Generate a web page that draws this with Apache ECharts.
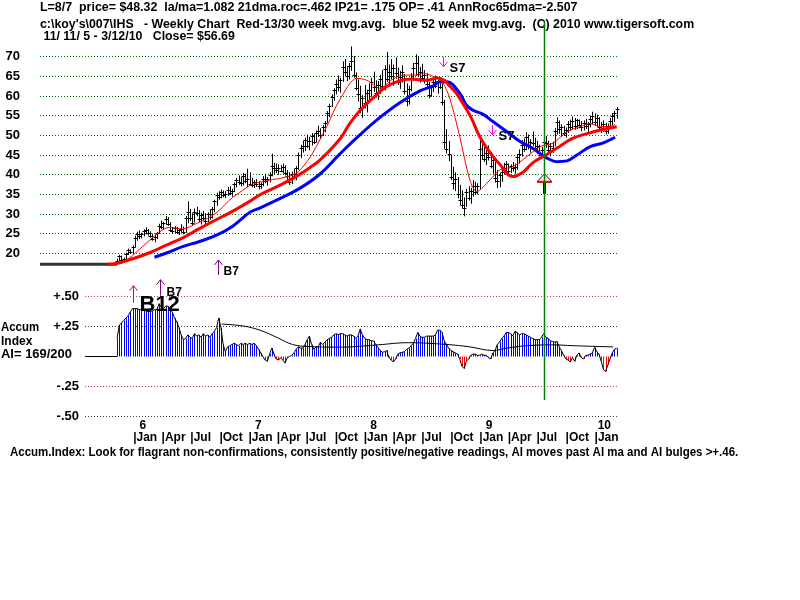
<!DOCTYPE html>
<html><head><meta charset="utf-8">
<script src="https://cdn.jsdelivr.net/npm/echarts@6/dist/echarts.min.js"></script>
<style>html,body{margin:0;padding:0;background:#fff}#c{width:800px;height:600px}</style>
</head><body><div id="c"></div>
<script>
// ---------------- DATA ----------------
const firstWeek = '2005-11-11';          // first weekly bar (Friday)
const chartStart = '2005-03-12';         // left edge of price panel time range
const chartEnd = '2010-03-13';
const aiStart = '2005-08-01';            // left edge of Accum panel time range

const high = [
18.6,19.6,19.4,18.9,20.2,21.2,21.0,22.0,24.5,25.5,
25.8,25.2,26.1,26.6,26.2,25.6,25.0,24.8,25.4,27.5,
28.3,28.0,29.5,29.2,27.9,26.6,26.9,26.7,26.2,27.4,
26.8,29.5,33.2,31.3,30.2,31.4,31.8,31.0,30.3,30.8,
30.2,30.4,31.2,31.8,33.6,35.4,35.8,36.2,36.0,35.8,
36.8,37.0,36.4,38.0,39.2,39.8,39.4,40.4,40.2,41.5,
40.6,39.2,38.6,38.9,38.4,38.0,39.6,40.2,39.4,40.6,
45.3,43.0,42.8,42.6,42.4,42.8,42.4,41.2,40.6,40.8,
41.4,42.2,45.6,47.6,48.6,49.4,50.2,49.6,50.6,50.4,
51.2,52.4,51.8,52.6,53.6,56.2,58.0,60.4,62.0,64.2,
65.2,64.6,68.8,69.4,67.6,68.4,72.6,70.2,66.0,64.2,
62.6,60.2,62.8,61.6,63.2,64.6,66.2,64.0,63.8,65.4,
66.6,67.8,71.2,68.0,69.4,68.0,69.8,67.2,66.4,67.8,
65.6,63.2,62.6,65.8,68.4,70.6,70.2,67.4,68.2,66.6,
65.8,63.6,62.8,64.6,65.2,64.0,64.8,63.4,59.0,51.6,
48.6,45.0,42.0,40.6,39.4,37.4,36.0,34.2,36.4,37.0,
36.6,38.6,38.2,37.8,48.8,48.2,47.0,46.2,47.4,45.8,
44.2,43.4,41.2,40.4,41.6,43.0,43.4,42.8,42.6,43.2,
42.8,45.2,46.4,48.8,49.2,50.8,50.2,49.0,51.0,49.4,
48.6,47.6,47.0,50.4,49.8,48.6,48.0,48.4,51.8,54.6,
53.8,52.8,52.4,52.0,53.6,54.0,54.8,54.4,54.2,54.0,
53.6,53.8,54.2,53.4,55.0,56.0,55.6,55.2,54.6,53.4,
53.8,53.2,53.0,54.4,55.6,56.2,57.2];

const low = [
17.4,18.0,18.1,17.9,18.4,19.6,19.8,20.0,21.5,23.2,
23.6,23.8,24.3,24.8,24.5,24.0,23.2,22.8,23.6,25.0,
26.1,25.9,27.2,27.0,25.4,25.0,25.2,24.9,24.6,25.3,
24.8,25.2,27.6,28.2,27.0,27.8,29.4,28.0,27.3,28.4,
27.4,27.8,28.5,28.8,30.4,32.0,33.6,34.0,34.2,34.0,
34.6,34.8,34.4,35.6,36.8,37.4,37.0,37.2,37.8,36.8,
37.2,36.8,36.6,36.9,36.2,36.4,37.0,37.8,37.2,38.0,
39.6,40.2,40.4,40.0,40.6,40.4,39.8,38.6,37.4,37.6,
38.8,38.6,41.2,44.2,45.6,46.0,46.8,46.2,47.4,47.8,
48.2,49.6,49.0,49.8,50.8,53.2,54.6,57.2,58.8,60.4,
61.2,60.8,63.6,65.0,63.8,64.2,66.4,64.6,61.4,58.6,
55.6,54.4,56.8,55.8,58.6,59.8,61.0,59.6,59.0,60.6,
61.8,61.4,63.6,62.4,64.2,62.6,64.4,62.8,61.8,63.4,
60.4,57.4,57.8,61.2,63.8,65.2,64.8,63.4,64.0,63.2,
62.4,59.4,59.8,61.0,62.0,60.6,61.8,57.6,46.6,45.4,
43.4,38.6,36.2,35.8,34.0,32.2,31.4,29.4,31.8,33.4,
32.6,34.4,34.8,35.0,36.2,43.8,43.2,42.4,43.6,41.6,
40.2,38.0,36.6,36.8,38.2,40.0,40.6,40.2,40.4,40.8,
40.2,41.2,42.8,44.6,45.8,46.2,46.4,45.6,47.2,45.8,
45.2,44.6,44.8,46.0,46.8,45.0,44.6,45.6,47.2,50.2,
50.4,49.6,49.8,49.4,50.6,51.2,51.6,51.4,51.6,51.8,
51.0,51.2,51.6,50.8,52.0,52.8,52.4,52.2,51.2,50.6,
50.8,50.2,50.4,51.8,52.6,53.4,54.2];

const close = [
18.0,19.2,18.4,18.5,19.9,20.8,20.2,21.6,24.0,24.8,
24.4,24.9,25.6,25.9,25.1,24.5,23.6,24.1,25.2,27.0,
26.6,27.8,28.6,27.4,25.8,25.6,26.3,25.3,25.8,26.1,
25.4,29.0,30.4,29.0,27.6,30.6,30.2,28.6,29.8,28.9,
28.2,29.9,29.3,31.2,33.2,34.7,34.4,35.6,34.8,35.0,
36.2,35.3,35.9,37.6,38.7,38.2,37.8,39.6,38.4,38.9,
37.6,37.4,38.0,37.5,37.0,37.6,39.0,38.4,38.8,40.0,
42.2,41.6,41.2,41.8,41.0,42.0,40.4,39.6,38.2,40.2,
39.4,41.8,45.0,46.8,47.2,48.8,47.4,48.6,49.8,48.4,
50.6,51.0,50.2,52.0,53.2,55.6,57.4,59.8,61.4,63.0,
62.2,64.0,67.4,66.0,65.2,67.6,69.0,65.4,62.0,60.4,
57.0,59.6,58.2,60.8,61.4,63.6,62.4,60.8,62.8,64.2,
62.6,66.8,64.4,66.2,65.0,67.2,65.8,63.6,64.8,66.2,
61.2,58.6,61.8,64.6,67.0,68.4,65.6,66.2,64.6,65.4,
63.0,60.2,62.2,63.6,62.6,63.8,62.4,58.4,48.4,46.6,
45.2,39.4,37.8,39.0,35.2,33.6,32.2,31.6,35.6,34.0,
35.8,37.0,35.6,37.2,46.4,45.0,44.0,45.6,44.4,42.2,
43.6,39.2,38.4,39.8,40.6,41.6,42.6,41.0,42.2,41.6,
42.0,44.6,45.2,47.6,46.4,49.6,47.2,48.4,48.0,46.8,
47.4,45.6,46.2,48.3,48.0,46.2,47.4,46.8,51.0,53.4,
51.6,52.2,50.6,51.4,52.8,52.2,53.6,52.4,53.8,52.6,
52.0,53.2,52.4,52.8,54.2,54.8,53.4,54.4,52.0,51.6,
52.8,51.2,52.4,53.6,54.8,55.6,56.69];

const preDataPrice = 17.2;   // flat level drawn before the first bar

// moving averages: [week index, value]
const ma13 = [[2.4,18.0],[5.6,18.8],[11.5,21.7],[19.2,25.4],[23.7,26.6],[29.6,26.2],[36,27.6],[42,29.2],[46.4,31.0],[51,33.6],[56.8,36.0],[61.4,37.6],[69,38.6],[75,39.2],[81,40.3],[85.5,43.0],[88.5,45.5],[94.8,52.2],[100.7,59.0],[108.5,64.5],[113,64.0],[118.8,62.0],[124.8,64.3],[129.3,65.3],[135.6,65.3],[138.3,65.8],[142.9,65.0],[147,63.6],[150.5,59.4],[155,49.7],[159.6,38.6],[162.7,35.7],[168.6,38.6],[173.2,41.2],[179,42.0],[185.4,44.6],[191.3,47.1],[197.2,48.0],[203.5,50.9],[209.4,52.2],[214,53.0],[218.5,52.2],[223,52.3],[225.3,52.8]];
const ma30 = [[-4.3,17.2],[0,17.4],[7,18.6],[15,20.2],[22,22.0],[30,24.0],[37,26.2],[45,28.6],[52,30.6],[60,33.2],[65,35.0],[74,37.4],[83,40.2],[87,41.7],[92,43.8],[101,49.2],[105,52.8],[110,56.4],[116,59.6],[122,62.4],[128,63.9],[133,64.3],[140,64.0],[145,64.6],[148,64.0],[150,62.8],[153,61.0],[155,59.4],[160,54.7],[164,49.7],[169,45.4],[173,42.7],[179,39.5],[184,40.8],[188,43.0],[194,45.0],[200,47.1],[206,49.2],[213,50.5],[219,51.4],[226,52.2]];
const ma52 = [[16.9,19.0],[23,20.2],[29.6,21.7],[37.3,23.0],[45,24.6],[52.3,26.9],[60,30.4],[64.5,31.5],[73.6,33.9],[82.6,36.5],[91.7,40.1],[100.7,45.2],[109.8,50.1],[118.8,54.5],[127.9,58.3],[137,61.3],[143,62.6],[146,63.6],[149.2,63.6],[155,60.7],[158,57.7],[160.9,56.4],[165.4,55.4],[170,53.5],[176.4,50.9],[182.3,48.4],[186.9,47.1],[191.3,45.4],[194.5,44.2],[199,43.3],[203.5,43.5],[208,45.0],[214,47.1],[220,48.1],[225.3,49.5]];

const accum = [
0.15,0.26,0.28,0.30,0.32,0.34,0.37,0.40,0.40,0.40,
0.39,0.39,0.39,0.38,0.375,0.375,0.38,0.39,0.39,0.44,
0.41,0.40,0.42,0.42,0.39,0.37,0.32,0.29,0.24,0.18,
0.14,0.15,0.18,0.16,0.15,0.19,0.17,0.18,0.16,0.19,
0.17,0.18,0.16,0.19,0.21,0.24,0.32,0.24,0.10,0.04,
0.08,0.09,0.10,0.11,0.10,0.09,0.11,0.10,0.11,0.10,
0.11,0.10,0.11,0.09,0.06,0.03,0.00,-0.03,-0.04,0.02,
0.07,0.02,-0.02,-0.03,-0.01,-0.03,-0.055,-0.01,0.00,0.01,
0.03,0.06,0.08,0.07,0.07,0.10,0.14,0.17,0.10,0.06,
0.08,0.08,0.12,0.10,0.12,0.14,0.15,0.16,0.18,0.19,
0.18,0.19,0.19,0.18,0.17,0.18,0.18,0.17,0.15,0.17,
0.23,0.18,0.15,0.14,0.14,0.13,0.13,0.10,0.075,0.05,
0.035,0.04,0.05,-0.01,-0.03,-0.045,-0.02,0.02,0.03,0.035,
0.04,0.06,0.07,0.09,0.11,0.15,0.20,0.17,0.16,0.16,
0.17,0.17,0.17,0.17,0.18,0.22,0.22,0.20,0.13,0.10,
0.07,0.05,0.04,0.03,0.02,-0.02,-0.08,-0.10,-0.04,-0.02,
0.01,0.02,0.02,0.01,0.01,0.02,0.01,0.01,-0.01,-0.02,
0.03,0.05,0.10,0.12,0.15,0.17,0.20,0.20,0.19,0.17,
0.21,0.20,0.18,0.19,0.19,0.18,0.17,0.16,0.15,0.14,
0.14,0.14,0.16,0.19,0.16,0.15,0.13,0.125,0.12,0.125,
0.08,0.05,0.01,-0.02,-0.03,-0.045,-0.01,-0.04,0.01,0.03,
-0.01,-0.02,0.01,0.01,0.02,0.03,0.075,0.04,0.02,-0.04,
-0.11,-0.125,-0.07,-0.02,0.03,0.06,0.07];
const accumMa = [[47.3,0.27],[56.8,0.255],[64.5,0.22],[72.2,0.16],[79.4,0.10],[87.1,0.083],[102.1,0.078],[113.4,0.09],[118,0.097],[131.8,0.115],[149.2,0.10],[159.6,0.08],[170,0.05],[176.4,0.07],[185.4,0.09],[197.2,0.097],[206.3,0.09],[224.4,0.08]];

const priceTicks = [20,25,30,35,40,45,50,55,60,65,70];
const aiTicks = [0.5,0.25,-0.25,-0.5];
const aiTickLabels = {'0.5':'+.50','0.25':'+.25','-0.25':'-.25','-0.5':'-.50'};
const monthNames = ['Jan','Apr','Jul','Oct'];
const years = [2006,2007,2008,2009,2010];

// signals: [week index, value, name]
const priceSignals = [[45.5,18.3,'B7'],[147.4,67.4,'S7'],[169.6,50.1,'S7']];
const aiSignals = [[7.4,0.59,'B12'],[19.2,0.64,'B7']];
const buyTriangle = [[193,40.2]];
const markerWeek = 193;

const headerLines = [
  'L=8/7  price= $48.32  la/ma=1.082 21dma.roc=.462 IP21= .175 OP= .41 AnnRoc65dma=-2.507',
  "c:\\koy's\\007\\IHS   - Weekly Chart  Red-13/30 week mvg.avg.  blue 52 week mvg.avg.  (C) 2010 www.tigersoft.com",
  ' 11/ 11/ 5 - 3/12/10   Close= $56.69'
];
const aiSideLabels = ['Accum','Index','AI= 169/200'];
const footer = 'Accum.Index: Look for flagrant non-confirmations, consistently positive/negative readings, AI moves past AI ma and AI bulges >+.46.';

// ---------------- BUILD ----------------
const DAY = 86400000;
const t0 = Date.parse(firstWeek + 'T00:00:00Z');
const wk = w => t0 + w * 7 * DAY;
const tMin = Date.parse(chartStart + 'T00:00:00Z');
const tMax = Date.parse(chartEnd + 'T00:00:00Z');
const tAiMin = Date.parse(aiStart + 'T12:00:00Z');

const FONT = '"Liberation Sans", Arial, sans-serif';
const barData = high.map((h, i) => [wk(i), h, low[i], close[i]]);
const aiData = accum.map((v, i) => [wk(i), v]);
const pts = arr => arr.map(([w, v]) => [wk(w), v]);

const monthVals = [];
years.forEach(y => [0,3,6,9].forEach(m => { const t = Date.UTC(y, m, 1); if (t < tMax) monthVals.push(t); }));
const yearVals = years.map(y => Date.UTC(y, 1, 1));

const sigStylePrice = {
  B7: {dir:'up', color:'#800080', len:15, dx:5, dy:12, size:12},
  S7: {dir:'down', color:'#ff00ff', len:10, dx:6, dy:2, size:13}
};
const sigStyleAi = {
  B12: {dir:'up', color:'#ff0000', len:17, dx:6, dy:19, size:22},
  B7: {dir:'up', color:'#800080', len:16, dx:6, dy:13, size:12}
};
function signalItem(styles, src){
  return function(params, api){
    const name = src[params.dataIndex][2];
    const st = styles[name];
    const p = api.coord([api.value(0), api.value(1)]);
    const x = Math.round(p[0]) + 0.5, y = p[1];
    const s = st.dir === 'up' ? 1 : -1;
    return {type:'group', children:[
      {type:'line', shape:{x1:x, y1:y, x2:x, y2:y + s*st.len}, style:{stroke:st.color, lineWidth:1}},
      {type:'polyline', shape:{points:[[x-4, y + s*5],[x, y],[x+4, y + s*5]]}, style:{stroke:st.color, fill:null, lineWidth:1}},
      {type:'text', x:x + st.dx, y:y + st.dy, style:{text:name, fill:'#000', font:'bold ' + st.size + 'px ' + FONT, textVerticalAlign:'middle', verticalAlign:'middle'}}
    ]};
  };
}

const dotted = (c) => ({type:[1,2], color:c, width:1});
const txt = (x, y, text, size, sx) => ({type:'text', x:x, y:y, scaleX:sx || 1, style:{text:text, font:'bold ' + size + 'px ' + FONT, fill:'#000', textVerticalAlign:'middle', verticalAlign:'middle'}});

const option = {
  animation: false,
  backgroundColor: '#fff',
  grid: [
    {left:40, top:48.8, width:577, height:220.2},
    {left:85, top:296.5, width:532, height:120},
    {left:40, top:21, width:577, height:379}
  ],
  xAxis: [
    {gridIndex:0, type:'value', min:tMin, max:tMax, show:false},
    {gridIndex:1, type:'value', min:tAiMin, max:tMax, position:'bottom',
      axisLine:{show:false}, axisTick:{show:false}, splitLine:{show:false},
      axisLabel:{customValues:monthVals, margin:15, align:'left', color:'#000', fontWeight:'bold', fontSize:12, fontFamily:FONT,
        formatter: v => '|' + monthNames[Math.round(new Date(v).getUTCMonth()/3)]}},
    {gridIndex:1, type:'value', min:tAiMin, max:tMax, position:'bottom',
      axisLine:{show:false}, axisTick:{show:false}, splitLine:{show:false},
      axisLabel:{customValues:yearVals, margin:3, color:'#000', fontWeight:'bold', fontSize:12, fontFamily:FONT,
        formatter: v => String(new Date(v).getUTCFullYear() % 100)}},
    {gridIndex:2, type:'value', min:tMin, max:tMax, show:false}
  ],
  yAxis: [
    {gridIndex:0, type:'value', min:16, max:72, axisLine:{show:false}, axisTick:{show:false}, splitLine:{show:false},
      axisLabel:{customValues:priceTicks, margin:20, color:'#000', fontWeight:'bold', fontSize:13, fontFamily:FONT}},
    {gridIndex:1, type:'value', min:-0.5, max:0.5, axisLine:{show:false}, axisTick:{show:false}, splitLine:{show:false},
      axisLabel:{customValues:aiTicks, margin:6, color:'#000', fontWeight:'bold', fontSize:13, fontFamily:FONT,
        formatter: v => aiTickLabels[String(v)]}},
    {gridIndex:2, type:'value', min:0, max:1, show:false}
  ],
  series: [
    {type:'line', name:'pre', xAxisIndex:0, yAxisIndex:0, data:[[tMin, preDataPrice],[wk(0), preDataPrice]],
      showSymbol:false, lineStyle:{color:'#333', width:3}, z:2,
      markLine:{silent:true, symbol:'none', label:{show:false}, lineStyle:dotted('#007000'),
        data: priceTicks.map(v => ({yAxis:v})), z:1}},
    {type:'custom', name:'bars', xAxisIndex:0, yAxisIndex:0, data:barData, encode:{x:0, y:[1,2]}, z:3,
      renderItem(params, api){
        const t = api.value(0);
        const hi = api.coord([t, api.value(1)]), lo = api.coord([t, api.value(2)]), cl = api.coord([t, api.value(3)]);
        const x = Math.round(hi[0]) + 0.5, yc = Math.round(cl[1]) + 0.5;
        return {type:'group', children:[
          {type:'line', shape:{x1:x, y1:hi[1], x2:x, y2:lo[1]}, style:{stroke:'#000', lineWidth:1}},
          {type:'line', shape:{x1:x-2, y1:yc, x2:x+2, y2:yc}, style:{stroke:'#000', lineWidth:1}}
        ]};
      }},
    {type:'line', name:'ma52', xAxisIndex:0, yAxisIndex:0, data:pts(ma52), smooth:0.4, showSymbol:false, lineStyle:{color:'#0000ff', width:3}, z:4},
    {type:'line', name:'ma30', xAxisIndex:0, yAxisIndex:0, data:pts(ma30), smooth:0.4, showSymbol:false, lineStyle:{color:'#ff0000', width:3}, z:5},
    {type:'line', name:'ma13', xAxisIndex:0, yAxisIndex:0, data:pts(ma13), smooth:0.3, showSymbol:false, lineStyle:{color:'#ff0000', width:1}, z:6},
    {type:'custom', name:'pricesig', xAxisIndex:0, yAxisIndex:0, data:pts(priceSignals), z:7, renderItem:signalItem(sigStylePrice, priceSignals)},
    {type:'custom', name:'tri', xAxisIndex:0, yAxisIndex:0, data:pts(buyTriangle), z:7,
      renderItem(params, api){
        const p = api.coord([api.value(0), api.value(1)]);
        const x = Math.round(p[0]) + 0.5, y = p[1];
        return {type:'group', children:[
          {type:'rect', shape:{x:x-1.5, y:y+8, width:3, height:12}, style:{fill:'#000'}},
          {type:'polygon', shape:{points:[[x, y],[x-7.5, y+8],[x+7.5, y+8]]}, style:{fill:'#ffff80', stroke:'#0000ff', lineWidth:1}},
          {type:'line', shape:{x1:x-7.5, y1:y+8, x2:x+7.5, y2:y+8}, style:{stroke:'#ff0000', lineWidth:2}}
        ]};
      }},
    // Accum index panel
    {type:'line', name:'aipre', xAxisIndex:1, yAxisIndex:1, data:[[tAiMin, 0],[wk(0), 0]], showSymbol:false, lineStyle:{color:'#000', width:1}, z:2,
      markLine:{silent:true, symbol:'none', label:{show:false},
        data: aiTicks.map(v => ({yAxis:v, lineStyle:dotted(v === 0.5 || v === -0.25 ? '#b04080' : '#404040')})), z:1}},
    {type:'custom', name:'aibars', xAxisIndex:1, yAxisIndex:1, data:aiData, encode:{x:0, y:1}, z:3,
      renderItem(params, api){
        const t = api.value(0), v = api.value(1);
        const p0 = api.coord([t, 0]), p1 = api.coord([t, v]);
        const x = Math.round(p0[0]) + 0.5;
        return {type:'line', shape:{x1:x, y1:p0[1], x2:x, y2:p1[1]}, style:{stroke: v >= 0 ? '#0000ff' : '#ff0000', lineWidth:1}};
      }},
    {type:'line', name:'ailine', xAxisIndex:1, yAxisIndex:1, data:aiData, showSymbol:false, lineStyle:{color:'#000', width:1}, z:4},
    {type:'line', name:'aima', xAxisIndex:1, yAxisIndex:1, data:pts(accumMa), smooth:0.4, showSymbol:false, lineStyle:{color:'#000', width:1}, z:5},
    {type:'custom', name:'aisig', xAxisIndex:1, yAxisIndex:1, data:pts(aiSignals), z:7, renderItem:signalItem(sigStyleAi, aiSignals)},
    // vertical marker line
    {type:'custom', name:'marker', xAxisIndex:3, yAxisIndex:2, data:[[wk(markerWeek), 0]], z:8,
      renderItem(params, api){
        const a = api.coord([api.value(0), 0]), b = api.coord([api.value(0), 1]);
        const x = Math.round(a[0]) + 0.5;
        return {type:'line', shape:{x1:x, y1:a[1], x2:x, y2:b[1]}, style:{stroke:'#008000', lineWidth:1.5}};
      }}
  ],
  graphic: [
    txt(40, 7.5, headerLines[0], 12, 1.035),
    txt(40, 25, headerLines[1], 12, 1.03),
    txt(40, 37, headerLines[2], 12, 1.03),
    txt(1, 328, aiSideLabels[0], 12, 0.95),
    txt(1, 342, aiSideLabels[1], 12, 1),
    txt(1, 355, aiSideLabels[2], 12, 1.08),
    txt(10, 453, footer, 12, 0.958)
  ]
};
const chart = echarts.init(document.getElementById('c'), null, {renderer:'canvas'});
chart.setOption(option);
</script>
</body></html>
